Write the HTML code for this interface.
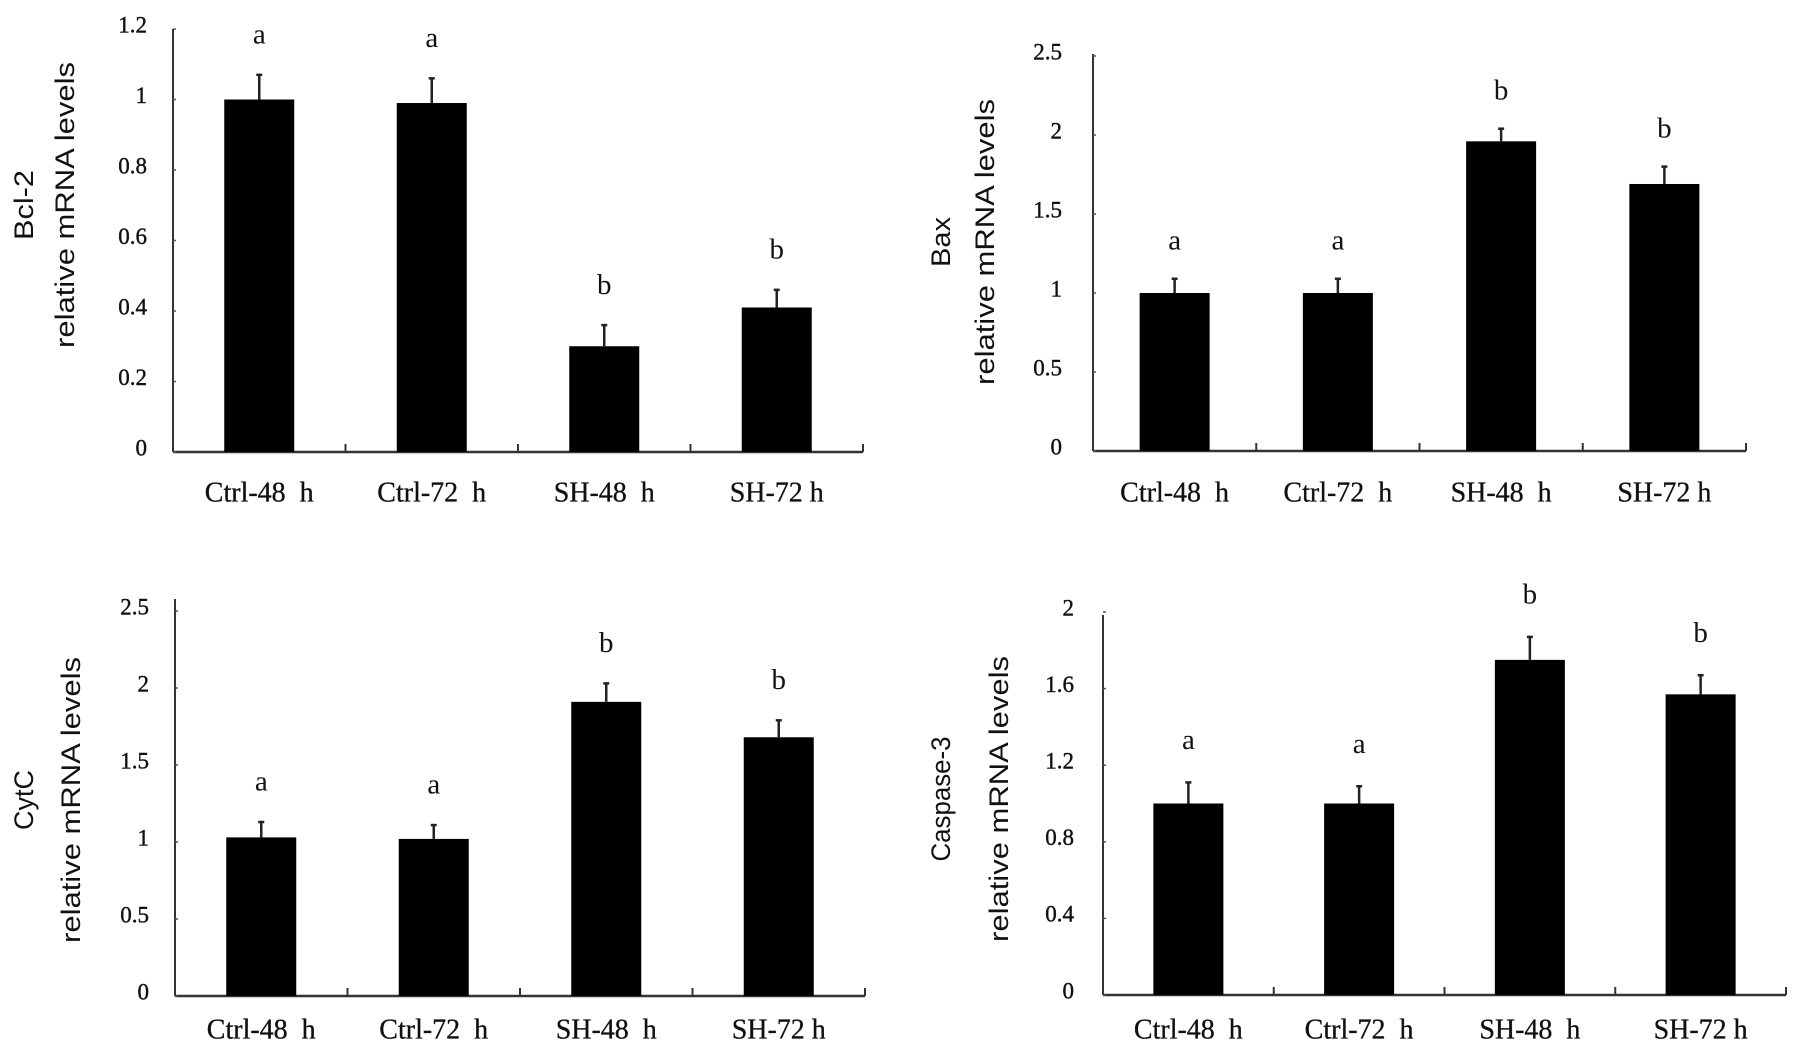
<!DOCTYPE html>
<html><head><meta charset="utf-8"><style>
html,body{margin:0;padding:0;background:#fff;}
svg{display:block;}
.tk{font-family:"Liberation Serif",serif;font-size:23px;fill:#111;stroke:#111;stroke-width:0.4;}
.xl{font-family:"Liberation Serif",serif;font-size:28px;fill:#111;stroke:#111;stroke-width:0.3;white-space:pre;}
.lt{font-family:"Liberation Serif",serif;font-size:29px;fill:#111;}
.yt{font-family:"Liberation Sans",sans-serif;font-size:27px;fill:#111;}
</style></head><body>
<svg id="chart" width="1795" height="1052" viewBox="0 0 1795 1052"></svg>
<script>
const categories = ["Ctrl-48  h","Ctrl-72  h","SH-48  h","SH-72 h"];
const bcl2Values = [1.0, 0.99, 0.30, 0.41];
const bcl2Errors = [0.07, 0.07, 0.06, 0.05];
const bcl2Letters = ["a","a","b","b"];
const bcl2Ticks = [0,0.2,0.4,0.6,0.8,1,1.2];
const baxValues = [1.0, 1.0, 1.96, 1.69];
const baxErrors = [0.09, 0.09, 0.08, 0.11];
const baxLetters = ["a","a","b","b"];
const baxTicks = [0,0.5,1,1.5,2,2.5];
const cytcValues = [1.03, 1.02, 1.91, 1.68];
const cytcErrors = [0.10, 0.09, 0.12, 0.11];
const cytcLetters = ["a","a","b","b"];
const cytcTicks = [0,0.5,1,1.5,2,2.5];
const casp3Values = [1.0, 1.0, 1.75, 1.57];
const casp3Errors = [0.11, 0.09, 0.12, 0.10];
const casp3Letters = ["a","a","b","b"];
const casp3Ticks = [0,0.4,0.8,1.2,1.6,2];

const NS="http://www.w3.org/2000/svg";
const svg=document.getElementById('chart');
function mk(tag,attrs,parent,text){const e=document.createElementNS(NS,tag);for(const k in attrs)e.setAttribute(k,attrs[k]);if(text!==undefined)e.textContent=text;parent.appendChild(e);return e;}

const panels=[
 {key:'bcl2',gene:'Bcl-2',vals:bcl2Values,errs:bcl2Errors,letters:bcl2Letters,ticks:bcl2Ticks,max:1.2,
  x0:173,x1:863,y0:452,yTop:29,axisTop:29,lblX:147,tA:26,tB:67,tY:205,gLen:70,xlY:495,letterGap:38},
 {key:'bax',gene:'Bax',vals:baxValues,errs:baxErrors,letters:baxLetters,ticks:baxTicks,max:2.5,
  x0:1093,x1:1746,y0:451,yTop:56,axisTop:54,lblX:1062,tA:943,tB:987,tY:242,gLen:50,xlY:495,letterGap:36},
 {key:'cytc',gene:'CytC',vals:cytcValues,errs:cytcErrors,letters:cytcLetters,ticks:cytcTicks,max:2.5,
  x0:175,x1:865,y0:996,yTop:611,axisTop:599,lblX:149,tA:26,tB:73,tY:800,gLen:60,xlY:1032,letterGap:38},
 {key:'casp3',gene:'Caspase-3',vals:casp3Values,errs:casp3Errors,letters:casp3Letters,ticks:casp3Ticks,max:2,
  x0:1103,x1:1786,y0:995,yTop:612,axisTop:615,lblX:1074,tA:943,tB:1001,tY:799,gLen:125,xlY:1032,letterGap:40}
];

panels.forEach(p=>{
  const g=mk('g',{},svg);
  
  
  const yS=v=>p.y0-(v/p.max)*(p.y0-p.yTop);
  const cw=(p.x1-p.x0)/categories.length;
  const xC=i=>p.x0+cw*(i+0.5);
  const bw=70;
  const ya=mk('line',{x1:p.x0,y1:p.axisTop,x2:p.x0,y2:p.y0,stroke:'#333','stroke-width':2},g);
  
  
  const xa=mk('line',{x1:p.x0,y1:p.y0,x2:p.x1,y2:p.y0,stroke:'#333','stroke-width':2.5},g);
  
  
  for(let i=1;i<=categories.length;i++){
    mk('line',{x1:p.x0+cw*i,y1:p.y0,x2:p.x0+cw*i,y2:p.y0-8,stroke:'#333','stroke-width':2},g);
  }
  p.ticks.forEach(t=>{
    mk('line',{x1:p.x0,y1:yS(t),x2:p.x0+3,y2:yS(t),stroke:'#555','stroke-width':1.5},g);
    const tl=mk('text',{x:p.lblX,y:yS(t)-2,'text-anchor':'end','dominant-baseline':'middle',class:'tk'},g,String(t));
    
    
  });
  const tt=mk('text',{transform:`translate(${p.tA},${p.tY}) rotate(-90)`,'text-anchor':'middle','dominant-baseline':'middle',class:'yt',textLength:p.gLen,lengthAdjust:'spacingAndGlyphs'},g,p.gene);
  
  
  const t2=mk('text',{transform:`translate(${p.tB},${p.tY}) rotate(-90)`,'text-anchor':'middle','dominant-baseline':'middle',class:'yt',textLength:286,lengthAdjust:'spacingAndGlyphs'},g,'relative mRNA levels');
  
  
  p.vals.forEach((v,i)=>{
    const cx=xC(i);
    const b=mk('rect',{x:cx-bw/2,y:yS(v),width:bw,height:p.y0-yS(v),fill:'#000'},g);
    
    
    const et=yS(v+p.errs[i]);
    const e=mk('line',{x1:cx,y1:yS(v),x2:cx,y2:et,stroke:'#222','stroke-width':2.5},g);
    
    
    mk('line',{x1:cx-3,y1:et,x2:cx+3,y2:et,stroke:'#222','stroke-width':2.5},g);
    const l=mk('text',{x:cx,y:et-p.letterGap,'text-anchor':'middle','dominant-baseline':'middle',class:'lt'},g,p.letters[i]);
    
    
    const xl=mk('text',{x:cx,y:p.xlY,'text-anchor':'middle','dominant-baseline':'middle',class:'xl'},g,categories[i]);
    
    
  });
});
</script>
</body></html>
